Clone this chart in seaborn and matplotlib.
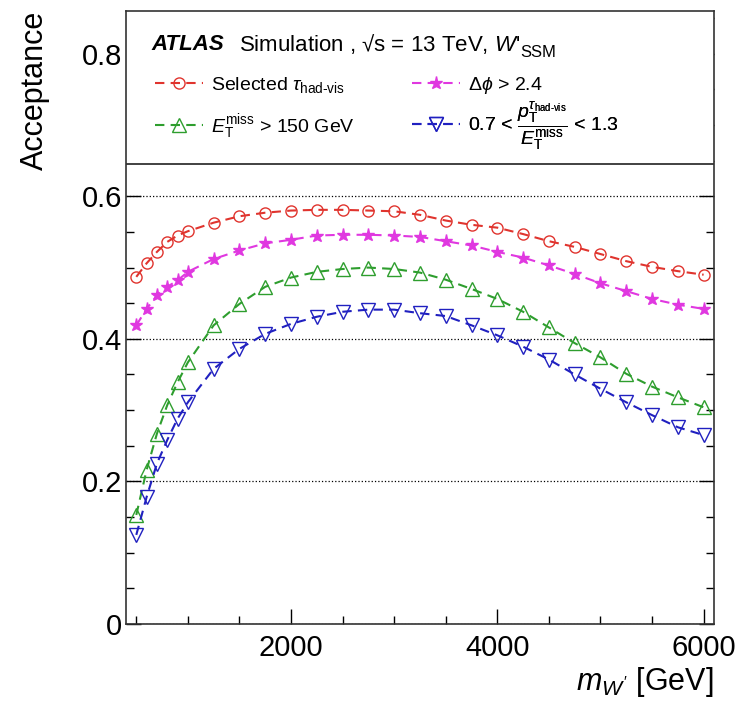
import numpy as np
import pandas as pd
import seaborn as sns
import matplotlib.pyplot as plt
from matplotlib.ticker import MultipleLocator, FormatStrFormatter

# W' mass points [GeV]
mass = [500, 600, 700, 800, 900, 1000, 1250, 1500, 1750, 2000, 2250, 2500, 2750,
        3000, 3250, 3500, 3750, 4000, 4250, 4500, 4750, 5000, 5250, 5500, 5750, 6000]

# acceptance after each selection step
acc_tau = [0.487, 0.506, 0.522, 0.536, 0.545, 0.551, 0.563, 0.572, 0.577, 0.580, 0.581, 0.581, 0.580,
           0.579, 0.574, 0.566, 0.560, 0.556, 0.547, 0.537, 0.529, 0.519, 0.509, 0.501, 0.495, 0.490]
acc_met = [0.153, 0.216, 0.267, 0.307, 0.339, 0.367, 0.419, 0.449, 0.473, 0.486, 0.494, 0.498, 0.500,
           0.498, 0.493, 0.483, 0.470, 0.456, 0.438, 0.416, 0.394, 0.374, 0.351, 0.333, 0.318, 0.304]
acc_dphi = [0.419, 0.442, 0.461, 0.473, 0.482, 0.494, 0.512, 0.524, 0.534, 0.539, 0.545, 0.546, 0.546,
            0.545, 0.543, 0.537, 0.531, 0.522, 0.514, 0.503, 0.491, 0.478, 0.467, 0.456, 0.448, 0.442]
acc_ratio = [0.125, 0.178, 0.225, 0.258, 0.288, 0.311, 0.358, 0.386, 0.407, 0.421, 0.431, 0.438, 0.441,
             0.441, 0.436, 0.432, 0.419, 0.405, 0.389, 0.371, 0.350, 0.330, 0.311, 0.293, 0.276, 0.265]

labels = [r'Selected $\tau_{\mathrm{had‐vis}}$',
          r'$E_{\mathrm{T}}^{\mathrm{miss}}$ > 150 GeV',
          r'$\mathit{\Delta\phi}$ > 2.4',
          r'0.7 < $\dfrac{p_{\mathrm{T}}^{\tau_{\mathrm{had‐vis}}}}{E_{\mathrm{T}}^{\mathrm{miss}}}$ < 1.3']

df = pd.DataFrame({'mass': mass, 'tau': acc_tau, 'met': acc_met, 'dphi': acc_dphi, 'ratio': acc_ratio})

sns.set_style("ticks")
plt.rcParams['font.family'] = ['Liberation Sans', 'DejaVu Sans']
plt.rcParams['mathtext.fontset'] = 'custom'
plt.rcParams['mathtext.rm'] = 'Liberation Sans'
plt.rcParams['mathtext.it'] = 'Liberation Sans:italic'
plt.rcParams['mathtext.bf'] = 'Liberation Sans:bold'
plt.rcParams['text.color'] = 'black'
plt.rcParams['axes.labelcolor'] = 'black'
plt.rcParams['xtick.color'] = 'black'
plt.rcParams['ytick.color'] = 'black'

fig = plt.figure(figsize=(7.41, 7.03), dpi=100)
ax = fig.add_axes([0.170, 0.1124, 0.7935, 0.872])

styles = [('tau', '#e0342e', 'o', 8), ('met', '#2e9e2e', '^', 9.5),
          ('dphi', '#e038e0', '*', 9.5), ('ratio', '#2020c0', 'v', 9.5)]
handles = []
for col, c, m, ms in styles:
    sns.lineplot(data=df, x='mass', y=col, ax=ax, color=c, marker=m, markersize=ms,
                 markerfacecolor='none' if m != '*' else c, markeredgecolor=c,
                 markeredgewidth=1.0, linewidth=1.5, linestyle=(0, (4.5, 3)), legend=False)
    handles.append(ax.lines[-1])

ax.set_xlim(400, 6100)
ax.set_ylim(0, 0.86)
ax.xaxis.set_major_locator(MultipleLocator(2000))
ax.xaxis.set_minor_locator(MultipleLocator(500))
ax.yaxis.set_major_locator(MultipleLocator(0.2))
ax.yaxis.set_minor_locator(MultipleLocator(0.05))
ax.yaxis.set_major_formatter(FormatStrFormatter('%g'))
ax.tick_params(which='both', direction='in', top=True, right=True, width=1.0, labelsize=21)
ax.tick_params(which='major', length=11)
ax.tick_params(which='minor', length=5.5)
ax.tick_params(axis='y', pad=3)
ax.tick_params(axis='x', pad=7)
for s in ax.spines.values():
    s.set_linewidth(1.2)
    s.set_color('#333333')

# dotted grid, hidden under the legend box
ax.set_axisbelow(True)
ax.yaxis.grid(True, linestyle=':', color='black', linewidth=0.9)
ax.axhspan(0.645, 0.86, color='white', zorder=1)
ax.axhline(0.645, color='#333333', linewidth=1.3, zorder=2)

ax.set_xlabel(r"$m_{W'}$ [GeV]", fontsize=22, loc='right')
ax.xaxis.set_label_coords(1.0, -0.067)
ax.set_ylabel('Acceptance', fontsize=22, loc='top')
ax.yaxis.set_label_coords(-0.13, 1.0)

ax.text(0.044, 0.946, 'ATLAS', transform=ax.transAxes, fontsize=16,
        fontweight='bold', fontstyle='italic', va='center')
t = ax.text(0.192, 0.946, "Simulation , √s = 13 TeV, $W$'",
            transform=ax.transAxes, fontsize=16, va='center')
ax.annotate('SSM', xy=(1, 0), xycoords=t, xytext=(0.5, -3), textcoords='offset points',
            fontsize=12, va='bottom')

# legend entries, two columns
pos = [(0.049, 0.879), (0.049, 0.812), (0.486, 0.879), (0.486, 0.812)]
for i, (x, y) in enumerate(pos):
    leg = ax.legend(handles=[handles[i]], labels=[labels[i]], loc='center left',
                    bbox_to_anchor=(x, y), frameon=False, fontsize=14,
                    handlelength=2.5, handletextpad=0.4, borderpad=0, borderaxespad=0)
    ax.add_artist(leg)

fig.savefig('out.png', dpi=100)
